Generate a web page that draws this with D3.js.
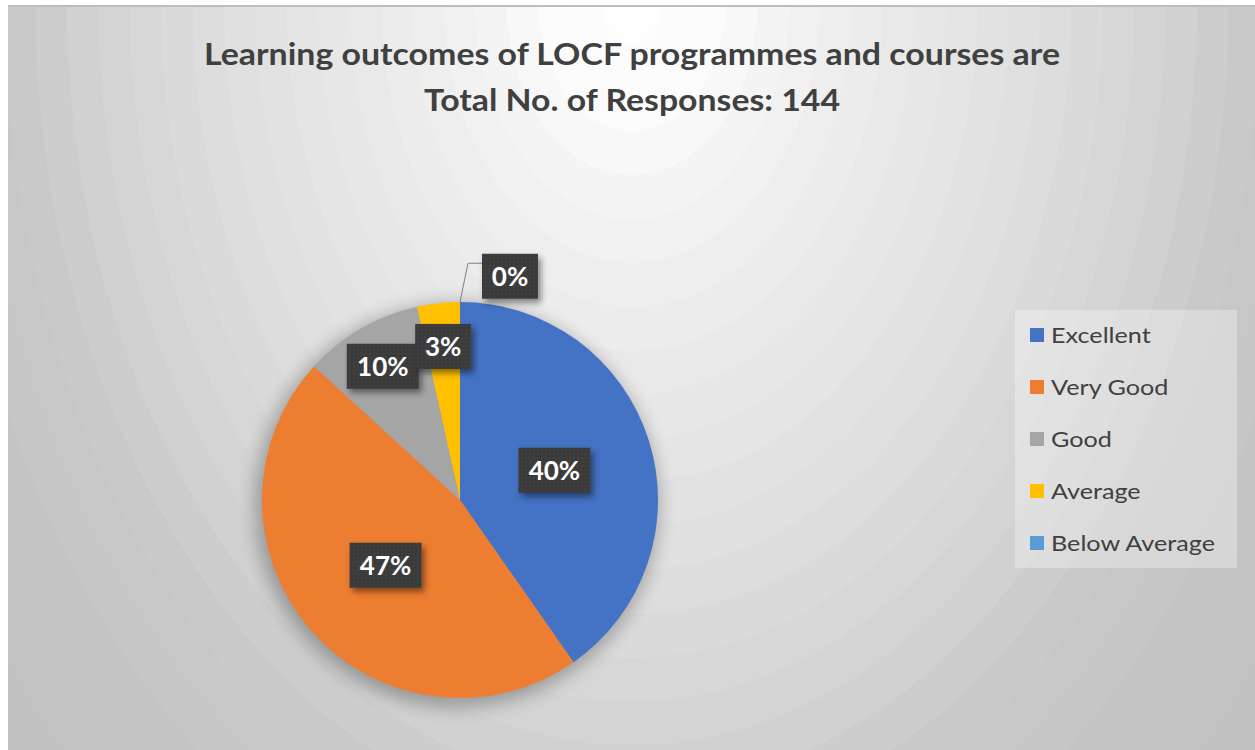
<!DOCTYPE html>
<html>
<head>
<meta charset="utf-8">
<script src="https://cdn.jsdelivr.net/npm/d3@7/dist/d3.min.js"></script>
<style>
  body { margin: 0; background: #fff; }
  svg { display: block; }
</style>
</head>
<body>
<div class="viz"></div>
<script>
var categories = ['Excellent', 'Very Good', 'Good', 'Average', 'Below Average']
var responses = [58, 67, 14, 5, 0]
var colors = ['#4472c4', '#ed7d31', '#a5a5a5', '#ffc000', '#5b9bd5']
var titleLines = ['Learning outcomes of LOCF programmes and courses are', 'Total No. of Responses: 144']

var width = 1255, height = 750
var cfg = { cx: 460, cy: 500, r: 198 }

var svg = d3.select(".viz").append("svg")
    .attr("width", width)
    .attr("height", height)

var defs = svg.append("defs")

// background: elliptical radial gradient from the top centre, banded a bit like the original
var bg = defs.append("radialGradient")
    .attr("id", "bg")
    .attr("gradientUnits", "userSpaceOnUse")
    .attr("cx", 632).attr("cy", 0).attr("r", 1140)
    .attr("gradientTransform", "translate(632,0) scale(0.716,1) translate(-632,0)")

var bgStops = [[0, 255], [0.114, 250], [0.175, 244], [0.246, 238], [0.45, 226], [0.649, 211], [0.76, 200], [1, 192]]
var shade = d3.scaleLinear().domain(bgStops.map(d => d[0])).range(bgStops.map(d => d[1]))
var nBands = 26
for (let i = 0; i < nBands; i++) {
    let t0 = i / nBands, t1 = (i + 1) / nBands
    let v = Math.round(shade((t0 + t1) / 2))
    let c = d3.rgb(v, v, v).formatHex()
    bg.append("stop").attr("offset", t0).attr("stop-color", c)
    bg.append("stop").attr("offset", t1).attr("stop-color", c)
}

var dots = defs.append("pattern")
    .attr("id", "dots")
    .attr("patternUnits", "userSpaceOnUse")
    .attr("width", 4).attr("height", 4)
dots.append("rect").attr("width", 4).attr("height", 4).attr("fill", "#3b3b3b")
dots.append("circle").attr("cx", 2).attr("cy", 2).attr("r", 0.7).attr("fill", "#4c4c4c")

var pieShadow = defs.append("filter").attr("id", "pieShadow")
    .attr("x", "-20%").attr("y", "-20%").attr("width", "140%").attr("height", "140%")
pieShadow.append("feGaussianBlur").attr("stdDeviation", 9)

var boxShadow = defs.append("filter").attr("id", "boxShadow")
    .attr("x", "-30%").attr("y", "-30%").attr("width", "160%").attr("height", "160%")
boxShadow.append("feDropShadow")
    .attr("dx", 3).attr("dy", 4).attr("stdDeviation", 3)
    .attr("flood-color", "#000").attr("flood-opacity", 0.45)

// chart area
svg.append("rect")
    .attr("x", 8).attr("y", 5)
    .attr("width", width - 8).attr("height", height - 5)
    .attr("fill", "url(#bg)")
svg.append("line")
    .attr("x1", 8).attr("x2", width)
    .attr("y1", 6).attr("y2", 6)
    .attr("stroke", "#bdbdbd").attr("stroke-width", 2)

// title
var title = svg.append("g")
    .attr("font-family", "Lato, 'Open Sans', sans-serif")
    .attr("font-weight", "bold")
    .attr("fill", "#404040")
    .attr("text-anchor", "middle")
var titleSpec = [{ y: 65, w: 856 }, { y: 111, w: 416 }]
titleLines.forEach((t, i) => {
    title.append("text")
        .attr("x", 632)
        .attr("y", titleSpec[i].y)
        .attr("font-size", 30)
        .attr("textLength", titleSpec[i].w)
        .attr("lengthAdjust", "spacingAndGlyphs")
        .text(t)
})

// pie
var data = categories.map((c, i) => ({ name: c, value: responses[i], color: colors[i] }))
var total = d3.sum(responses)

var pie = d3.pie().sort(null).value(d => d.value)
var arcs = pie(data)

var arc = d3.arc().innerRadius(0).outerRadius(cfg.r)
var arcOuter = d3.arc().innerRadius(cfg.r * 0.78).outerRadius(cfg.r * 0.78)
var arcEdge = d3.arc().innerRadius(cfg.r).outerRadius(cfg.r)
var arcOut = d3.arc().innerRadius(cfg.r * 1.13).outerRadius(cfg.r * 1.13)

var g = svg.append("g")
    .attr("transform", "translate(" + cfg.cx + "," + cfg.cy + ")")

g.append("circle")
    .attr("cx", -3).attr("cy", 5)
    .attr("r", cfg.r + 4)
    .attr("fill", "#000")
    .attr("opacity", 0.28)
    .attr("filter", "url(#pieShadow)")

g.selectAll(".slice")
    .data(arcs)
    .enter().append("path")
    .attr("class", "slice")
    .attr("d", arc)
    .attr("fill", d => d.data.color)

// data labels
var fmt = d => Math.round(d.data.value / total * 100) + "%"

var labels = g.selectAll(".lab")
    .data(arcs)
    .enter().append("g")
    .attr("class", "lab")
    .attr("font-family", "Lato, 'Open Sans', sans-serif")
    .attr("font-weight", "bold")
    .attr("font-size", 26)

labels.each(function(d) {
    var sel = d3.select(this)
    var span = d.endAngle - d.startAngle
    var pos, outside = false
    if (d.data.value === 0) {
        outside = true
        var a = arcOut.centroid(d)
        pos = [a[0] + 50, a[1]]
    } else if (span < 0.7) {
        pos = arcOuter.centroid(d)
    } else {
        pos = arc.centroid(d)
    }
    var bw = 72, bh = 45
    if (fmt(d).length < 3) bw = 56
    if (outside) {
        var e = arcEdge.centroid(d)
        var bend = [e[0] + 8, pos[1] - 13]
        sel.append("polyline")
            .attr("points", [e, bend, [pos[0] - bw / 2, bend[1]]].map(p => p.join(",")).join(" "))
            .attr("fill", "none")
            .attr("stroke", "#7f7f7f")
            .attr("stroke-width", 1)
    }
    sel.append("rect")
        .attr("x", pos[0] - bw / 2)
        .attr("y", pos[1] - bh / 2)
        .attr("width", bw)
        .attr("height", bh)
        .attr("fill", "url(#dots)")
        .attr("filter", "url(#boxShadow)")
    sel.append("text")
        .attr("x", pos[0])
        .attr("y", pos[1])
        .attr("dy", "0.36em")
        .attr("text-anchor", "middle")
        .attr("fill", "#fff")
        .text(fmt(d))
})

// legend
var legend = svg.append("g")
    .attr("transform", "translate(1015,310)")

legend.append("rect")
    .attr("width", 222)
    .attr("height", 258)
    .attr("fill", "#fff")
    .attr("opacity", 0.3)

var item = legend.selectAll(".legend")
    .data(data)
    .enter().append("g")
    .attr("class", "legend")
    .attr("transform", (_, i) => "translate(0," + (25 + i * 52) + ")")

item.append("rect")
    .attr("x", 15)
    .attr("y", -7)
    .attr("width", 14)
    .attr("height", 14)
    .attr("fill", d => d.color)

var legText = item.append("text")
    .attr("x", 36)
    .attr("dy", "0.35em")
    .attr("font-family", "Lato, 'Open Sans', sans-serif")
    .attr("font-size", 22)
    .attr("fill", "#404040")
    .text(d => d.name)

// stretch legend text slightly so "Below Average" spans like the original
var ref = legText.filter(d => d.name === 'Below Average').node()
var k = 164 / ref.getComputedTextLength()
legText.each(function() {
    var w = this.getComputedTextLength()
    d3.select(this).attr("textLength", w * k).attr("lengthAdjust", "spacingAndGlyphs")
})
</script>
</body>
</html>
